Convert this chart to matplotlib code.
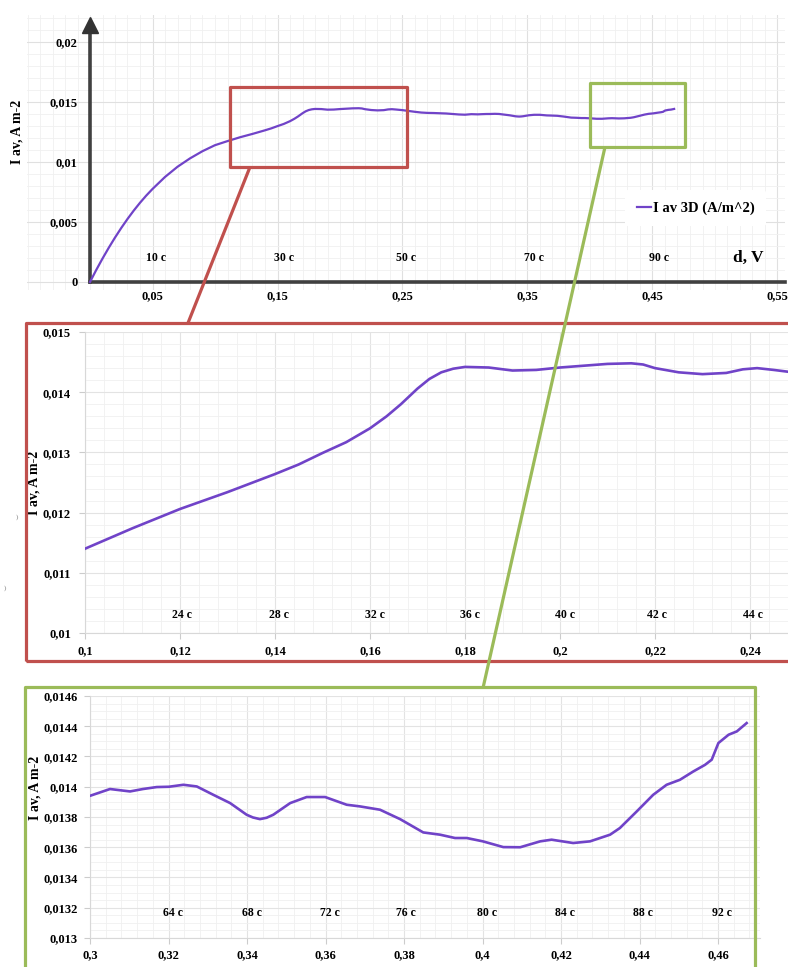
import matplotlib
matplotlib.use("Agg")
from matplotlib import pyplot as plt
from matplotlib.patches import Rectangle
from matplotlib.lines import Line2D
from matplotlib.ticker import MultipleLocator, FixedLocator
import numpy as np

# averaged current density vs voltage (one curve, shown whole and in two zoomed windows)
d_volts = [0.0, 0.005, 0.01, 0.015, 0.02, 0.025, 0.03, 0.035, 0.04, 0.045,
           0.05, 0.06, 0.07, 0.08, 0.09, 0.1, 0.105, 0.11, 0.115,
           0.12, 0.125, 0.13, 0.135, 0.14, 0.145, 0.15, 0.155, 0.16, 0.1635,
           0.1665, 0.17, 0.1725, 0.175, 0.1775, 0.18, 0.185, 0.19, 0.195, 0.2,
           0.205, 0.21, 0.215, 0.2175, 0.22, 0.225, 0.23, 0.235, 0.2385, 0.2415,
           0.245, 0.25, 0.255, 0.26, 0.265, 0.27, 0.275, 0.28, 0.285, 0.29,
           0.295, 0.3, 0.3051, 0.3102, 0.3135, 0.317, 0.3201, 0.3238, 0.3272, 0.3314,
           0.3357, 0.3399, 0.3415, 0.3433, 0.345, 0.3467, 0.351, 0.3552, 0.3599, 0.3654,
           0.3688, 0.3739, 0.379, 0.3849, 0.3892, 0.393, 0.396, 0.4001, 0.4053, 0.4096,
           0.4147, 0.4176, 0.4231, 0.4274, 0.4325, 0.435, 0.4393, 0.4435, 0.4469, 0.4503,
           0.4537, 0.4567, 0.4584, 0.4601, 0.4627, 0.4648, 0.4673]
i_av = [0.0, 0.001, 0.00195, 0.00285, 0.0037, 0.0045, 0.00525, 0.00595, 0.0066, 0.0072,
        0.00775, 0.00875, 0.0096, 0.0103, 0.0109, 0.0114, 0.01157, 0.01174, 0.0119,
        0.01206, 0.0122, 0.01234, 0.01249, 0.01264, 0.0128, 0.01299, 0.01317, 0.0134, 0.0136,
        0.0138, 0.01406, 0.01422, 0.01433, 0.01439, 0.01442, 0.01441, 0.01436, 0.01437, 0.01441,
        0.01444, 0.01447, 0.01448, 0.01446, 0.0144, 0.01433, 0.0143, 0.01432, 0.01438, 0.0144,
        0.01437, 0.01432, 0.01425, 0.01418, 0.01412, 0.01409, 0.01408, 0.01406, 0.01404, 0.0140,
        0.01396, 0.01394, 0.013985, 0.013969, 0.013985, 0.013998, 0.0140, 0.014013, 0.014002, 0.013947,
        0.013892, 0.013815, 0.013797, 0.013786, 0.013795, 0.013815, 0.013892, 0.013932, 0.013932, 0.013881,
        0.01387, 0.013848, 0.013786, 0.013698, 0.013683, 0.013661, 0.013661, 0.013639, 0.013601, 0.0136,
        0.013639, 0.01365, 0.013628, 0.013639, 0.013683, 0.013727, 0.013837, 0.013947, 0.014013, 0.014046,
        0.014101, 0.014145, 0.014179, 0.014289, 0.014344, 0.014366, 0.014421]

# time marks written along each plot
top_marks = [0.053, 0.155, 0.253, 0.355, 0.455]
top_times = ["10 c", "30 c", "50 c", "70 c", "90 c"]
mid_marks = [0.1205, 0.1408, 0.161, 0.181, 0.201, 0.2205, 0.2407]
mid_times = ["24 c", "28 c", "32 c", "36 c", "40 c", "42 c", "44 c"]
low_marks = [0.3212, 0.3413, 0.3611, 0.3805, 0.4011, 0.421, 0.4409, 0.461]
low_times = ["64 c", "68 c", "72 c", "76 c", "80 c", "84 c", "88 c", "92 c"]

top_xt = [0.05, 0.15, 0.25, 0.35, 0.45, 0.55]
top_yt = [0, 0.005, 0.01, 0.015, 0.02]
mid_xt = [0.1, 0.12, 0.14, 0.16, 0.18, 0.2, 0.22, 0.24]
mid_yt = [0.01, 0.011, 0.012, 0.013, 0.014, 0.015]
low_xt = [0.3, 0.32, 0.34, 0.36, 0.38, 0.4, 0.42, 0.44, 0.46]
low_yt = [0.013, 0.0132, 0.0134, 0.0136, 0.0138, 0.014, 0.0142, 0.0144, 0.0146]

LINE = "#7043C8"
RED = "#C0504D"
GREEN = "#9BBB59"
W, H = 788, 967

plt.rcParams["font.family"] = ["Liberation Serif", "DejaVu Serif"]
plt.rcParams["font.weight"] = "bold"

fig = plt.figure(figsize=(W / 100, H / 100), dpi=100)


def box(l, t, r, b):
    # pixel box (top-left origin) -> figure fraction rect
    return [l / W, 1 - b / H, (r - l) / W, (b - t) / H]


def fx(x, y):
    return x / W, 1 - y / H


def comma(v):
    return ("%g" % v).replace(".", ",")


def grid_style(ax, major_c="#e3e3e3", minor_c="#f0f0f0"):
    ax.grid(True, which="major", color=major_c, lw=0.8)
    ax.grid(True, which="minor", color=minor_c, lw=0.6)
    ax.set_axisbelow(True)


# ---------- overview chart ----------
ax = fig.add_axes(box(27, 15, 785, 290))
ax.set_xlim(-0.0504, 0.556)
ax.set_ylim(-0.00067, 0.02225)
ax.plot(d_volts, i_av, color=LINE, lw=1.6, label="I av 3D (A/m^2)", zorder=3)
ax.xaxis.set_major_locator(FixedLocator(top_xt))
ax.xaxis.set_minor_locator(MultipleLocator(0.01))
ax.yaxis.set_major_locator(FixedLocator(top_yt))
ax.yaxis.set_minor_locator(MultipleLocator(0.001))
ax.set_xticklabels([comma(v) for v in top_xt])
ax.set_yticklabels([comma(v) for v in top_yt])
grid_style(ax, "#e0e0e0", "#f0f0f0")
for s in ("top", "right"):
    ax.spines[s].set_visible(False)
ax.spines["left"].set_position(("data", 0))
ax.spines["bottom"].set_position(("data", 0))
ax.spines["left"].set_bounds(0, 0.0212)
ax.spines["bottom"].set_bounds(0, 0.556)
for s in ("left", "bottom"):
    ax.spines[s].set_color("#404040")
    ax.spines[s].set_linewidth(2.6)
ax.plot(0, 0.0214, marker="^", ms=12, color="#333333", clip_on=False, zorder=4)
ax.tick_params(which="both", length=0)
ax.tick_params(axis="y", pad=9, labelsize=9)
ax.tick_params(axis="x", pad=6, labelsize=9)
ax.set_ylabel("I av, A m-2", fontsize=10, fontweight="bold")
ax.yaxis.set_label_coords(-0.004, 0.575)
for xm, t in zip(top_marks, top_times):
    ax.text(xm, 0.002, t, ha="center", va="center", fontsize=8.5)
ax.text(0.527, 0.002, "d, V", ha="center", va="center", fontsize=12.5)
leg = ax.legend(loc="center", bbox_to_anchor=(0.882, 0.298), fontsize=10.5,
                handlelength=1.0, handletextpad=0.1, frameon=True, borderpad=0.8)
leg.get_frame().set_facecolor("white")
leg.get_frame().set_edgecolor("none")
leg.get_frame().set_alpha(1)

# ---------- window 0.1 - 0.25 ----------
ax2 = fig.add_axes(box(85, 332, 788, 633))
ax2.plot(d_volts, i_av, color=LINE, lw=1.9, zorder=3)
ax2.set_xlim(0.1, 0.248)
ax2.set_ylim(0.01, 0.015)
ax2.xaxis.set_major_locator(FixedLocator(mid_xt))
ax2.xaxis.set_minor_locator(MultipleLocator(0.004))
ax2.yaxis.set_major_locator(FixedLocator(mid_yt))
ax2.yaxis.set_minor_locator(MultipleLocator(0.0002))
ax2.set_xticklabels([comma(v) for v in mid_xt])
ax2.set_yticklabels([comma(v) for v in mid_yt])
grid_style(ax2)
for s in ("top", "right"):
    ax2.spines[s].set_visible(False)
for s in ("left", "bottom"):
    ax2.spines[s].set_color("#d8d8d8")
ax2.tick_params(which="major", length=4, color="#cccccc", labelsize=9)
ax2.tick_params(which="minor", length=0)
ax2.tick_params(axis="y", pad=6)
ax2.tick_params(axis="x", pad=5)
ax2.set_ylabel("I av, A m-2", fontsize=10, fontweight="bold")
ax2.yaxis.set_label_coords(-0.063, 0.5)
for xm, t in zip(mid_marks, mid_times):
    ax2.text(xm, 0.0103, t, ha="center", va="center", fontsize=8.5)

# ---------- window 0.3 - 0.47 ----------
ax3 = fig.add_axes(box(90, 696, 760, 938))
ax3.plot(d_volts, i_av, color=LINE, lw=1.9, zorder=3)
ax3.set_xlim(0.3, 0.4707)
ax3.set_ylim(0.013, 0.0146)
ax3.xaxis.set_major_locator(FixedLocator(low_xt))
ax3.xaxis.set_minor_locator(MultipleLocator(0.004))
ax3.yaxis.set_major_locator(FixedLocator(low_yt))
ax3.yaxis.set_minor_locator(MultipleLocator(0.00005))
ax3.set_xticklabels([comma(v) for v in low_xt])
ax3.set_yticklabels([comma(v) for v in low_yt])
grid_style(ax3)
for s in ("top", "right"):
    ax3.spines[s].set_visible(False)
for s in ("left", "bottom"):
    ax3.spines[s].set_color("#d8d8d8")
ax3.tick_params(which="major", length=4, color="#cccccc", labelsize=9)
ax3.tick_params(which="minor", length=0)
ax3.tick_params(axis="y", pad=5)
ax3.tick_params(axis="x", pad=4)
ax3.set_ylabel("I av, A m-2", fontsize=10, fontweight="bold")
ax3.yaxis.set_label_coords(-0.073, 0.62)
for xm, t in zip(low_marks, low_times):
    ax3.text(xm, 0.013165, t, ha="center", va="center", fontsize=8.5)


# ---------- frames and connectors ----------
def frame(l, t, r, b, color, z=10):
    x0, y0 = fx(l, b)
    x1, y1 = fx(r, t)
    fig.add_artist(Rectangle((x0, y0), x1 - x0, y1 - y0, transform=fig.transFigure,
                             fill=False, edgecolor=color, lw=2.3, joinstyle="round",
                             zorder=z))


frame(230, 87, 407, 167, RED)
frame(590, 83, 685, 147, GREEN)
frame(26, 323, 805, 661, RED)
frame(25, 687, 755, 990, GREEN)

for (xa, ya), (xb, yb), c in [((250, 167), (188, 323), RED),
                              ((605, 147), (483, 688), GREEN)]:
    p0, p1 = fx(xa, ya), fx(xb, yb)
    fig.add_artist(Line2D([p0[0], p1[0]], [p0[1], p1[1]], transform=fig.transFigure,
                          color=c, lw=2.3, solid_capstyle="butt", zorder=11))

fig.text(*fx(17, 517), ")", color="#aaaaaa", fontsize=5, ha="center", va="center")
fig.text(*fx(5, 588), ")", color="#aaaaaa", fontsize=5, ha="center", va="center")

fig.savefig("out.png", dpi=100, facecolor="white")
